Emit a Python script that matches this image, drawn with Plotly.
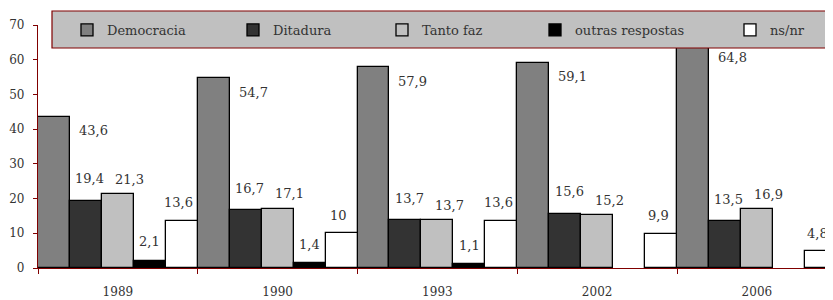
import plotly.graph_objects as go

years = ["1989", "1990", "1993", "2002", "2006"]
series_names = ["Democracia", "Ditadura", "Tanto faz", "outras respostas", "ns/nr"]
democracia = [43.6, 54.7, 57.9, 59.1, 64.8]
ditadura = [19.4, 16.7, 13.7, 15.6, 13.5]
tanto_faz = [21.3, 17.1, 13.7, 15.2, 16.9]
outras = [2.1, 1.4, 1.1, None, None]
ns_nr = [13.6, 10, 13.6, 9.9, 4.8]
y_ticks = [0, 10, 20, 30, 40, 50, 60, 70]

values = [democracia, ditadura, tanto_faz, outras, ns_nr]
colors = ["#808080", "#333333", "#C0C0C0", "#000000", "#FFFFFF"]
# label style per series: (xanchor, xshift px, yshift px)
label_style = [("left", 24, -14), ("center", 4, 22), ("center", 12, 15),
               ("center", 0, 19), ("center", -3, 18)]
legend_ids = ["legend", "legend2", "legend3", "legend4", "legend5"]

# The page adds an 8px body margin, so the figure is 8px smaller than the window.
PAGE_OFF = 8
W, H = 833 - PAGE_OFF, 300 - PAGE_OFF
# legend entry left positions (px in figure coordinates)
legend_left_px = [59, 225, 374, 527, 722]

L, T = 38 - PAGE_OFF, 25 - PAGE_OFF
PLOT_W = W - L
PLOT_H = 243
B = H - T - PLOT_H
CAT_W = 159.75

FONT = "DejaVu Serif"
AXIS = "#800000"
TXT = "#333333"

fig = go.Figure()
for name, vals, col, lid in zip(series_names, values, colors, legend_ids):
    fig.add_trace(go.Bar(
        x=years, y=vals, name=name, legend=lid,
        marker=dict(color=col, line=dict(color="#000000", width=1.3)),
    ))

def fmt(v):
    return ("%g" % v).replace(".", ",")

annotations = []
n = len(series_names)
for si, vals in enumerate(values):
    xa, xs, ys = label_style[si]
    for gi, v in enumerate(vals):
        if v is None:
            continue
        annotations.append(dict(
            x=gi + (si - (n - 1) / 2) / n, y=v, xref="x", yref="y",
            text=fmt(v), showarrow=False, xanchor=xa, yanchor="middle",
            xshift=xs, yshift=ys, borderpad=0,
            font=dict(family=FONT, size=13, color=TXT),
        ))

legend_common = dict(
    orientation="h", xref="container", yref="container",
    xanchor="left", yanchor="middle", y=1 - (30 - PAGE_OFF) / H,
    bgcolor="rgba(0,0,0,0)", borderwidth=0,
    font=dict(family=FONT, size=13, color=TXT), itemwidth=30,
)
legends = {}
for lid, px in zip(legend_ids, legend_left_px):
    legends[lid] = dict(legend_common, x=px / W)

box_top = 11 - PAGE_OFF
box_bot = 48 - PAGE_OFF

fig.update_layout(
    width=W, height=H,
    margin=dict(l=L, r=0, t=T, b=B, autoexpand=False),
    paper_bgcolor="white", plot_bgcolor="white",
    barmode="group", bargap=0, bargroupgap=0,
    font=dict(family=FONT, size=12, color=TXT),
    annotations=annotations,
    showlegend=True,
    shapes=[dict(
        type="rect", xref="paper", yref="paper",
        x0=14 / PLOT_W, x1=1.05,
        y0=(T + PLOT_H - box_bot) / PLOT_H, y1=(T + PLOT_H - box_top) / PLOT_H,
        fillcolor="#C0C0C0", line=dict(color=AXIS, width=1.2), layer="above",
    )],
    **legends,
)

fig.update_xaxes(
    type="category", range=[-0.5, -0.5 + PLOT_W / CAT_W],
    showline=True, linecolor=AXIS, linewidth=1.3,
    ticks="outside", tickson="boundaries", ticklen=5, tickcolor=AXIS,
    ticklabelstandoff=12, showgrid=False, zeroline=False,
    tickfont=dict(family=FONT, size=12, color=TXT),
)
fig.update_yaxes(
    range=[0, 70], tickvals=y_ticks, ticktext=[str(t) for t in y_ticks],
    showline=True, linecolor=AXIS, linewidth=1.3,
    ticks="outside", ticklen=4, tickcolor=AXIS, ticklabelstandoff=6,
    showgrid=False, zeroline=False,
    tickfont=dict(family=FONT, size=12, color=TXT),
)

fig.write_html("out.html")
